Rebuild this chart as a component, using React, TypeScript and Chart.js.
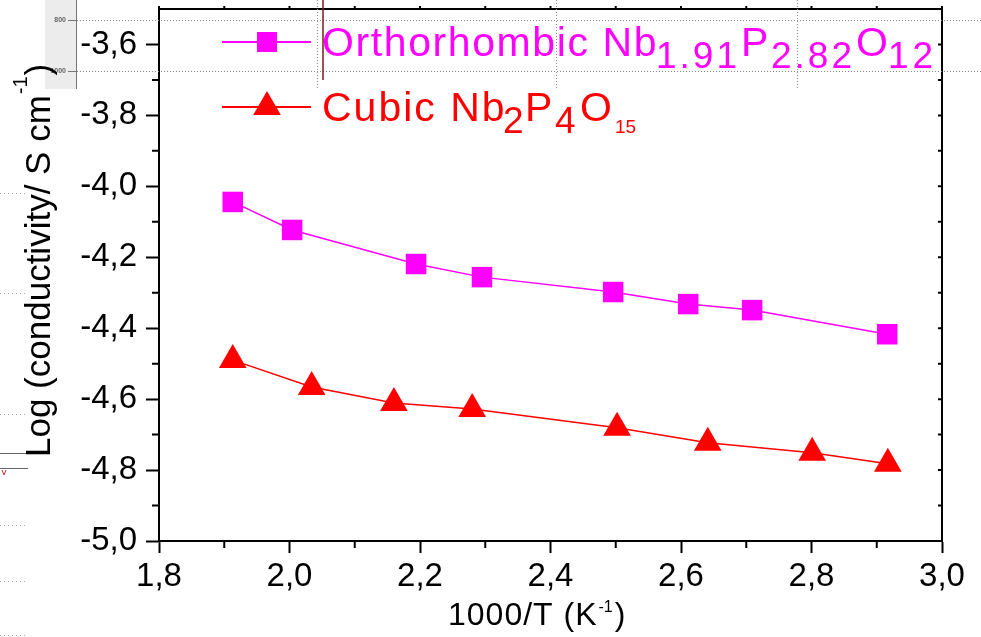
import React, { useEffect, useRef } from 'react';
import { Chart, registerables } from 'chart.js';

Chart.register(...registerables);

// ---- data ----
const ORTHO_X = [1.913, 2.004, 2.194, 2.295, 2.496, 2.611, 2.709, 2.916];
const ORTHO_Y = [-4.044, -4.123, -4.219, -4.256, -4.298, -4.332, -4.349, -4.417];
const CUBIC_X = [1.913, 2.034, 2.16, 2.28, 2.502, 2.641, 2.801, 2.917];
const CUBIC_Y = [-4.49, -4.566, -4.611, -4.628, -4.681, -4.723, -4.751, -4.782];

const X_TICKS = [1.8, 2.0, 2.2, 2.4, 2.6, 2.8, 3.0];
const X_MINOR = [1.9, 2.1, 2.3, 2.5, 2.7, 2.9];
const Y_TICKS = [-5.0, -4.8, -4.6, -4.4, -4.2, -4.0, -3.8, -3.6];
const Y_MINOR = [-4.9, -4.7, -4.5, -4.3, -4.1, -3.9, -3.7];

const X_MIN = 1.8;
const X_MAX = 3.0;
const Y_MIN = -5.0;
const Y_MAX = -3.5;

const MAGENTA = '#ff00ff';
const RED = '#ff0000';
const FONT = "'Liberation Sans', Arial, Helvetica, sans-serif";

const fmt = (v: number) => v.toFixed(1).replace('.', ',');

function drawText(ctx: CanvasRenderingContext2D, text: string, x: number, y: number, size: number, color: string, spacing = 0) {
  ctx.font = `${size}px ${FONT}`;
  (ctx as any).letterSpacing = `${spacing}px`;
  ctx.fillStyle = color;
  ctx.textAlign = 'left';
  ctx.textBaseline = 'alphabetic';
  ctx.fillText(text, x, y);
  const w = ctx.measureText(text).width;
  (ctx as any).letterSpacing = '0px';
  return w;
}

const decorPlugin = {
  id: 'decor',
  beforeDraw(chart: any) {
    const ctx: CanvasRenderingContext2D = chart.ctx;
    ctx.save();
    ctx.fillStyle = '#fff';
    ctx.fillRect(0, 0, chart.width, chart.height);
    // screenshot remnants on the left
    ctx.fillStyle = '#ececec';
    ctx.fillRect(45, 0, 31, 89);
    ctx.strokeStyle = '#777';
    ctx.lineWidth = 1;
    ctx.beginPath();
    ctx.moveTo(76.5, 0);
    ctx.lineTo(76.5, 89);
    ctx.moveTo(68, 20.5);
    ctx.lineTo(76, 20.5);
    ctx.moveTo(68, 71.5);
    ctx.lineTo(76, 71.5);
    ctx.stroke();
    ctx.font = `bold 7px ${FONT}`;
    ctx.fillStyle = '#666';
    ctx.textAlign = 'right';
    ctx.textBaseline = 'middle';
    ctx.fillText('800', 66, 20.5);
    ctx.fillText('1000', 66, 71.5);
    // short dotted marks at the left edge
    ctx.strokeStyle = '#aaa';
    ctx.setLineDash([1, 3]);
    ctx.beginPath();
    [193, 293, 414, 525, 581, 635].forEach((y) => {
      ctx.moveTo(0, y + 0.5);
      ctx.lineTo(28, y + 0.5);
    });
    ctx.stroke();
    ctx.setLineDash([]);
    ctx.strokeStyle = '#666';
    ctx.beginPath();
    ctx.moveTo(0, 453.5);
    ctx.lineTo(28, 453.5);
    ctx.moveTo(0, 468.5);
    ctx.lineTo(28, 468.5);
    ctx.stroke();
    ctx.strokeStyle = '#c33';
    ctx.beginPath();
    ctx.moveTo(2, 470);
    ctx.lineTo(4, 475);
    ctx.lineTo(6, 470);
    ctx.stroke();
    ctx.restore();
  },
  afterDraw(chart: any) {
    const ctx: CanvasRenderingContext2D = chart.ctx;
    const xs = chart.scales.x;
    const ys = chart.scales.y;
    const { left, right, top, bottom } = chart.chartArea;
    ctx.save();
    ctx.strokeStyle = '#000';
    ctx.lineWidth = 2;
    // top and right frame
    ctx.beginPath();
    ctx.moveTo(left, top);
    ctx.lineTo(right, top);
    ctx.moveTo(right, top);
    ctx.lineTo(right, bottom);
    ctx.stroke();
    // minor ticks (outward) on left and bottom
    ctx.beginPath();
    Y_MINOR.forEach((v) => {
      const y = ys.getPixelForValue(v);
      ctx.moveTo(left - 7, y);
      ctx.lineTo(left, y);
    });
    X_MINOR.forEach((v) => {
      const x = xs.getPixelForValue(v);
      ctx.moveTo(x, bottom);
      ctx.lineTo(x, bottom + 7);
    });
    // right side inward ticks, top outward ticks
    [...Y_TICKS, ...Y_MINOR].forEach((v) => {
      const y = ys.getPixelForValue(v);
      ctx.moveTo(right, y);
      ctx.lineTo(right - 4, y);
    });
    [...X_TICKS, ...X_MINOR].forEach((v) => {
      const x = xs.getPixelForValue(v);
      ctx.moveTo(x, top);
      ctx.lineTo(x, top - 3);
    });
    ctx.stroke();

    // x axis title
    let x = 448;
    x += drawText(ctx, '1000/T (K', x, 625, 32, '#000', 1);
    x += drawText(ctx, '-1', x + 1, 612, 16, '#000', 0) + 1;
    drawText(ctx, ')', x + 2, 625, 32, '#000', 1);

    // y axis title (rotated)
    ctx.save();
    ctx.translate(50, 457);
    ctx.rotate(-Math.PI / 2);
    let t = 0;
    t += drawText(ctx, 'Log (conductivity/ S cm', 0, 0, 35, '#000', 0);
    t += drawText(ctx, '-1', t + 1, -23, 20, '#000', 0) + 1;
    drawText(ctx, ')', t + 1, 0, 35, '#000', 0);
    ctx.restore();

    // legend markers
    ctx.lineWidth = 2;
    ctx.strokeStyle = MAGENTA;
    ctx.beginPath();
    ctx.moveTo(222, 42);
    ctx.lineTo(311, 42);
    ctx.stroke();
    ctx.fillStyle = MAGENTA;
    ctx.fillRect(257, 32, 20, 20);
    ctx.strokeStyle = RED;
    ctx.beginPath();
    ctx.moveTo(222, 107);
    ctx.lineTo(311, 107);
    ctx.stroke();
    ctx.fillStyle = RED;
    ctx.beginPath();
    const r = 16;
    const cx = 267;
    const cy = 107;
    ctx.moveTo(cx, cy - r);
    ctx.lineTo(cx + r * Math.sin((2 * Math.PI) / 3), cy + r / 2);
    ctx.lineTo(cx - r * Math.sin((2 * Math.PI) / 3), cy + r / 2);
    ctx.closePath();
    ctx.fill();

    // legend text
    drawText(ctx, 'Orthorhombic Nb', 322, 56, 41, MAGENTA, 1.6);
    drawText(ctx, '1.91', 656, 68, 37, MAGENTA, 3);
    drawText(ctx, 'P', 741, 56, 41, MAGENTA, 1);
    drawText(ctx, '2.82', 771, 68, 37, MAGENTA, 3);
    drawText(ctx, 'O', 856, 56, 41, MAGENTA, 1);
    drawText(ctx, '12', 888, 68, 37, MAGENTA, 4);

    drawText(ctx, 'Cubic Nb', 322, 121, 41, RED, 2);
    drawText(ctx, '2', 503, 133, 37, RED, 0);
    drawText(ctx, 'P', 525, 121, 41, RED, 0);
    drawText(ctx, '4', 555, 133, 37, RED, 0);
    drawText(ctx, 'O', 580, 121, 41, RED, 0);
    drawText(ctx, '15', 615, 133, 19, RED, 0);

    // dotted overlay remnants
    ctx.strokeStyle = '#888';
    ctx.lineWidth = 1;
    ctx.setLineDash([1, 2]);
    ctx.beginPath();
    [20.5, 71.5].forEach((y) => {
      ctx.moveTo(77, y);
      ctx.lineTo(981, y);
    });
    [317.5, 556.5, 797.5].forEach((vx) => {
      ctx.moveTo(vx, 0);
      ctx.lineTo(vx, 88);
    });
    ctx.stroke();
    ctx.setLineDash([]);
    ctx.strokeStyle = '#7a1a1a';
    ctx.lineWidth = 1.5;
    ctx.beginPath();
    ctx.moveTo(323, 0);
    ctx.lineTo(323, 80);
    ctx.stroke();
    ctx.restore();
  },
};

export default function App() {
  const ref = useRef<HTMLCanvasElement | null>(null);

  useEffect(() => {
    if (!ref.current) return;
    const chart = new Chart(ref.current, {
      type: 'scatter',
      data: {
        datasets: [
          {
            label: 'Orthorhombic Nb1.91P2.82O12',
            data: ORTHO_X.map((x, i) => ({ x, y: ORTHO_Y[i] })),
            showLine: true,
            borderColor: MAGENTA,
            backgroundColor: MAGENTA,
            borderWidth: 1.5,
            pointStyle: 'rect',
            pointRadius: 14.5,
            pointBorderWidth: 0,
            pointBackgroundColor: MAGENTA,
            clip: false,
          },
          {
            label: 'Cubic Nb2P4O15',
            data: CUBIC_X.map((x, i) => ({ x, y: CUBIC_Y[i] })),
            showLine: true,
            borderColor: RED,
            backgroundColor: RED,
            borderWidth: 1.5,
            pointStyle: 'triangle',
            pointRadius: 16,
            pointBorderWidth: 0,
            pointBackgroundColor: RED,
            clip: false,
          },
        ],
      },
      options: {
        animation: false,
        responsive: false,
        maintainAspectRatio: false,
        layout: { autoPadding: false, padding: { left: 0, top: 9, right: 39, bottom: 0 } },
        plugins: { legend: { display: false }, tooltip: { enabled: false } },
        scales: {
          x: {
            type: 'linear',
            min: X_MIN,
            max: X_MAX,
            afterFit: (s: any) => {
              s.height = 96;
              s.paddingLeft = 0;
              s.paddingRight = 0;
            },
            afterBuildTicks: (s: any) => {
              s.ticks = X_TICKS.map((v) => ({ value: v }));
            },
            border: { display: true, color: '#000', width: 2 },
            grid: { drawOnChartArea: false, drawTicks: true, tickLength: 12, tickWidth: 2, tickColor: '#000' },
            ticks: {
              color: '#000',
              font: { family: FONT, size: 33 },
              padding: 4,
              maxRotation: 0,
              autoSkip: false,
              callback: (v: any) => fmt(Number(v)),
            },
          },
          y: {
            type: 'linear',
            min: Y_MIN,
            max: Y_MAX,
            afterFit: (s: any) => {
              s.width = 159;
              s.paddingTop = 0;
              s.paddingBottom = 0;
            },
            afterBuildTicks: (s: any) => {
              s.ticks = Y_TICKS.map((v) => ({ value: v }));
            },
            border: { display: true, color: '#000', width: 2 },
            grid: { drawOnChartArea: false, drawTicks: true, tickLength: 13, tickWidth: 2, tickColor: '#000' },
            ticks: {
              color: '#000',
              font: { family: FONT, size: 33 },
              padding: 9,
              autoSkip: false,
              callback: (v: any) => fmt(Number(v)),
            },
          },
        },
      },
      plugins: [decorPlugin],
    });
    return () => chart.destroy();
  }, []);

  return (
    <div style={{ position: 'fixed', left: 0, top: 0, width: 981, height: 637, background: '#fff' }}>
      <canvas ref={ref} width={981} height={637} style={{ display: 'block' }} />
    </div>
  );
}
